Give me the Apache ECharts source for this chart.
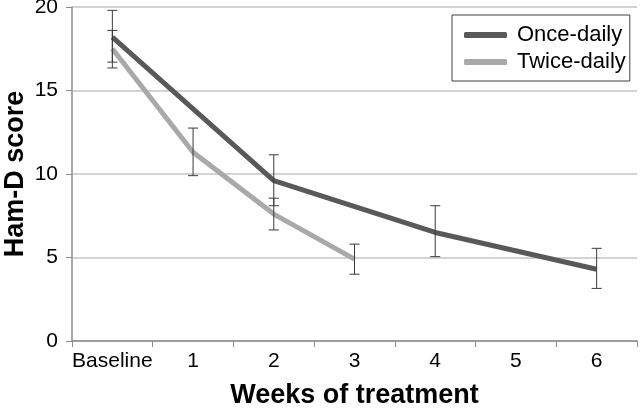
<!DOCTYPE html>
<html>
<head>
<meta charset="utf-8">
<script src="https://cdn.jsdelivr.net/npm/echarts@6/dist/echarts.min.js"></script>
<style>
html,body{margin:0;padding:0;background:#fff;}
#chart{width:641px;height:408px;}
</style>
</head>
<body>
<div id="chart"></div>
<script>
const categories = ['Baseline', '1', '2', '3', '4', '5', '6'];
const onceDaily = [18.2, null, 9.6, null, 6.5, null, 4.3];
const twiceDaily = [17.5, 11.3, 7.6, 4.9, null, null, null];
// error bars: [category index, low, high]
const onceErr = [[0, 16.7, 19.8], [2, 8.1, 11.15], [4, 5.05, 8.1], [6, 3.15, 5.55]];
const twiceErr = [[0, 16.35, 18.6], [1, 9.9, 12.75], [2, 6.65, 8.55], [3, 4.0, 5.8]];
const yTicks = [0, 5, 10, 15, 20];

const FONT = '"Liberation Sans", Arial, sans-serif';
const chart = echarts.init(document.getElementById('chart'), null, {renderer: 'canvas'});

function errRender(params, api) {
  const x = api.value(0);
  const lo = api.coord([x, api.value(1)]);
  const hi = api.coord([x, api.value(2)]);
  const hw = 5;
  const style = {stroke: '#3a3a3a', lineWidth: 1};
  return {
    type: 'group',
    children: [
      {type: 'line', shape: {x1: hi[0], y1: hi[1], x2: lo[0], y2: lo[1]}, style: style},
      {type: 'line', shape: {x1: hi[0] - hw, y1: hi[1], x2: hi[0] + hw, y2: hi[1]}, style: style},
      {type: 'line', shape: {x1: lo[0] - hw, y1: lo[1], x2: lo[0] + hw, y2: lo[1]}, style: style}
    ]
  };
}

chart.setOption({
  animation: false,
  backgroundColor: '#ffffff',
  textStyle: {fontFamily: FONT},
  grid: {left: 72, right: 4, top: 7, bottom: 67, containLabel: false, outerBoundsMode: 'none'},
  legend: {
    orient: 'vertical',
    left: 452,
    top: 15,
    padding: [9, 4, 8, 12],
    itemGap: 5,
    itemWidth: 43,
    itemHeight: 6,
    icon: 'roundRect',
    borderColor: '#404040',
    borderWidth: 1,
    borderRadius: 0,
    textStyle: {fontFamily: FONT, fontSize: 22, color: '#000', padding: [0, 0, 0, 5]},
    data: ['Once-daily', 'Twice-daily']
  },
  xAxis: {
    type: 'category',
    data: categories,
    boundaryGap: true,
    name: 'Weeks of treatment',
    nameLocation: 'middle',
    nameGap: 41,
    nameTextStyle: {fontFamily: FONT, fontSize: 27, fontWeight: 'bold', color: '#000'},
    axisLine: {lineStyle: {color: '#8c8c8c', width: 1.5}},
    axisTick: {show: true, length: 6, interval: 0, alignWithLabel: false, lineStyle: {color: '#8c8c8c'}},
    axisLabel: {fontFamily: FONT, fontSize: 21, color: '#000', margin: 10, interval: 0},
    splitLine: {show: false}
  },
  yAxis: {
    type: 'value',
    min: 0,
    max: 20,
    interval: 5,
    name: 'Ham-D score',
    nameLocation: 'middle',
    nameRotate: 90,
    nameGap: 43,
    nameMoveOverlap: false,
    nameTextStyle: {fontFamily: FONT, fontSize: 27, fontWeight: 'bold', color: '#000'},
    axisLine: {show: true, lineStyle: {color: '#8c8c8c', width: 1.5}},
    axisTick: {show: true, length: 6, lineStyle: {color: '#8c8c8c'}},
    axisLabel: {fontFamily: FONT, fontSize: 21, color: '#000', margin: 14,
      formatter: function (v) { return yTicks.indexOf(v) >= 0 ? String(v) : ''; }},
    splitLine: {show: true, lineStyle: {color: '#c4c4c4', width: 1.5}}
  },
  series: [
    {
      name: 'Once-daily', type: 'line', data: onceDaily, connectNulls: true,
      showSymbol: false, symbol: 'none',
      lineStyle: {color: '#595959', width: 5}, itemStyle: {color: '#595959'}, z: 3
    },
    {
      name: 'Twice-daily', type: 'line', data: twiceDaily, connectNulls: true,
      showSymbol: false, symbol: 'none',
      lineStyle: {color: '#a9a9a9', width: 5}, itemStyle: {color: '#a9a9a9'}, z: 3
    },
    {type: 'custom', renderItem: errRender, data: onceErr, z: 5, silent: true,
      encode: {x: 0, y: [1, 2]}},
    {type: 'custom', renderItem: errRender, data: twiceErr, z: 5, silent: true,
      encode: {x: 0, y: [1, 2]}}
  ]
});
</script>
</body>
</html>
